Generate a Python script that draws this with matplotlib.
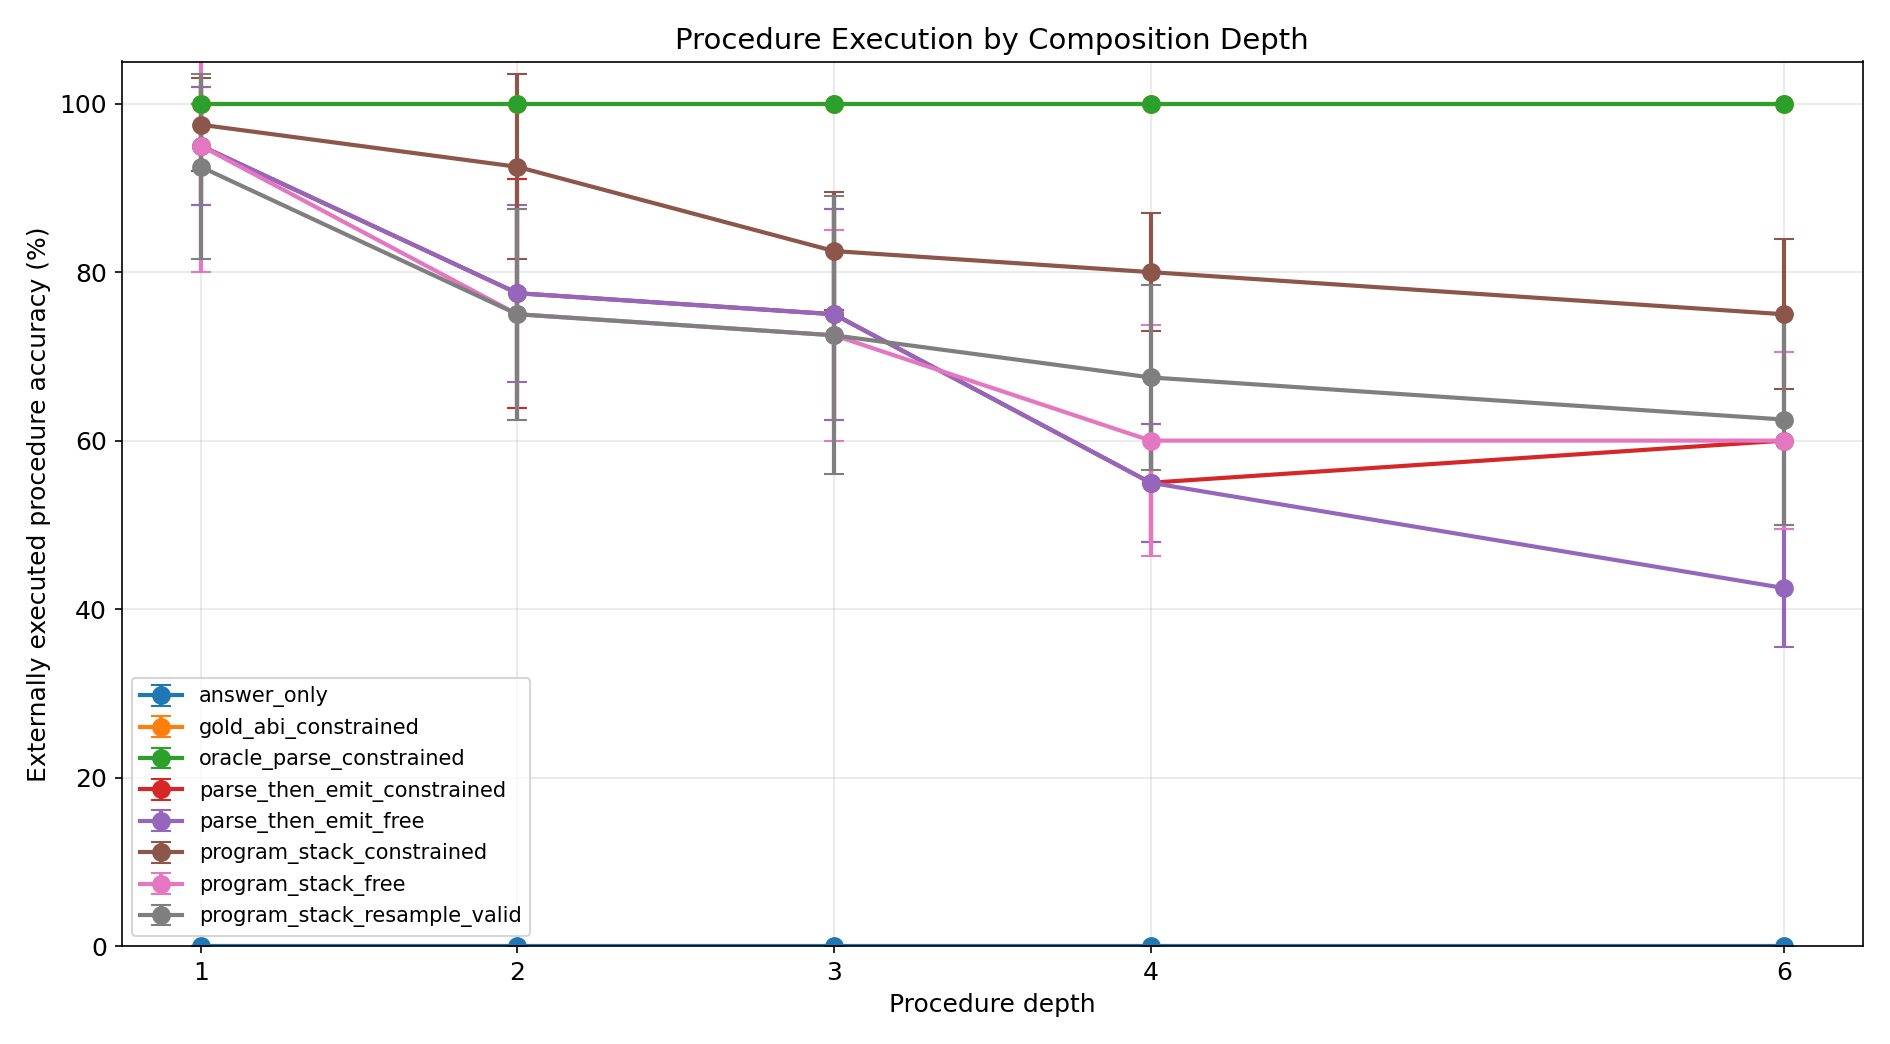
import numpy as np
import matplotlib.pyplot as plt

depths = [1, 2, 3, 4, 6]
methods = ['answer_only', 'gold_abi_constrained', 'oracle_parse_constrained',
           'parse_then_emit_constrained', 'parse_then_emit_free',
           'program_stack_constrained', 'program_stack_free',
           'program_stack_resample_valid']

answer_only = [0, 0, 0, 0, 0]
answer_only_err = [0, 0, 0, 0, 0]
gold_abi = [100, 100, 100, 100, 100]
gold_abi_err = [0, 0, 0, 0, 0]
oracle = [100, 100, 100, 100, 100]
oracle_err = [0, 0, 0, 0, 0]
pte_con = [95, 77.5, 75, 55, 60]
pte_con_err = [7, 13.6, 12.5, 7, 0]
pte_free = [95, 77.5, 75, 55, 42.5]
pte_free_err = [7, 10.5, 12.5, 7, 7]
ps_con = [97.5, 92.5, 82.5, 80, 75]
ps_con_err = [5.5, 11, 7, 7, 8.9]
ps_free = [95, 75, 72.5, 60, 60]
ps_free_err = [15, 12.5, 12.5, 13.7, 10.5]
ps_resample = [92.5, 75, 72.5, 67.5, 62.5]
ps_resample_err = [11, 12.5, 16.5, 11, 12.5]

values = [answer_only, gold_abi, oracle, pte_con, pte_free, ps_con, ps_free, ps_resample]
errors = [answer_only_err, gold_abi_err, oracle_err, pte_con_err, pte_free_err,
          ps_con_err, ps_free_err, ps_resample_err]

plt.rcParams['font.size'] = 12
fig, ax = plt.subplots(figsize=(12.6, 6.96), dpi=150)
for name, v, e in zip(methods, values, errors):
    ax.errorbar(depths, v, yerr=e, marker='o', markersize=8, linewidth=2,
                capsize=5, label=name)

ax.set_xticks(depths)
ax.set_ylim(0, 105)
ax.set_xlabel('Procedure depth')
ax.set_ylabel('Externally executed procedure accuracy (%)')
ax.set_title('Procedure Execution by Composition Depth', fontsize=14)
ax.grid(True, alpha=0.3)
ax.legend(loc='lower left', fontsize=10)
fig.tight_layout()
plt.savefig('out.png')
